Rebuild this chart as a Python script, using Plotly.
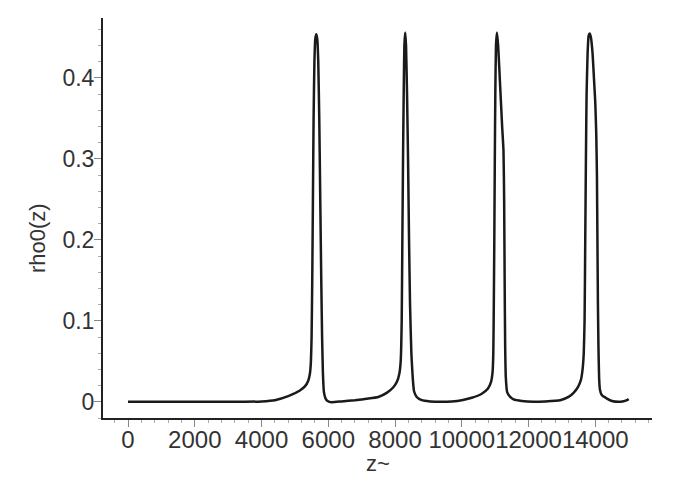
import plotly.graph_objects as go

# traced curve rho0(z)
z = [0, 1000, 2000, 3000, 3500, 4000, 4400, 4800, 5150, 5300, 5400, 5450, 5480, 5500,
     5520, 5540, 5560, 5585, 5610, 5640, 5670, 5700, 5730, 5760, 5790, 5815, 5840, 5870,
     5920, 5980, 6100, 6400, 6800, 7200, 7500, 7750, 7950, 8060, 8130, 8170, 8200, 8220,
     8240, 8260, 8280, 8305, 8330, 8360, 8390, 8420, 8450, 8490, 8530, 8570, 8650, 8800,
     9050, 9400, 9700, 10000, 10300, 10600, 10780, 10880, 10920, 10945, 10960, 10975,
     10990, 11005, 11025, 11053, 11090, 11150, 11210, 11250, 11270, 11285, 11300, 11320,
     11360, 11450, 11550, 11800, 12150, 12500, 12950, 13200, 13350, 13480, 13570, 13620,
     13655, 13680, 13700, 13720, 13740, 13770, 13800, 13832, 13870, 13920, 13960, 14000,
     14030, 14050, 14065, 14080, 14095, 14115, 14140, 14200, 14350, 14500, 14700, 14850,
     14950, 15000]
rho = [0, 0, 0, 0, 0, 0.0005, 0.002, 0.007, 0.014, 0.019, 0.026, 0.035, 0.05, 0.08,
       0.15, 0.25, 0.35, 0.42, 0.448, 0.454, 0.448, 0.42, 0.35, 0.25, 0.15, 0.08, 0.035, 0.012,
       0.004, 0.001, -0.0005, 0.0005, 0.002, 0.004, 0.006, 0.011, 0.018, 0.025, 0.035, 0.05, 0.1, 0.2,
       0.3, 0.38, 0.44, 0.456, 0.44, 0.38, 0.3, 0.2, 0.12, 0.06, 0.03, 0.013, 0.006, 0.002,
       0.0005, 0, 0.0005, 0.002, 0.005, 0.010, 0.016, 0.025, 0.035, 0.06, 0.12, 0.2,
       0.3, 0.38, 0.44, 0.456, 0.44, 0.39, 0.34, 0.31, 0.25, 0.15, 0.07, 0.03,
       0.012, 0.006, 0.003, 0.001, 0, 0.0005, 0.002, 0.006, 0.011, 0.018, 0.027, 0.04,
       0.06, 0.1, 0.2, 0.3, 0.38, 0.43, 0.452, 0.455, 0.45, 0.43, 0.40, 0.37,
       0.33, 0.28, 0.2, 0.12, 0.07, 0.03, 0.015, 0.008, 0.004, 0.001, 0, 0.0008,
       0.002, 0.0035]

x_ticks = [0, 2000, 4000, 6000, 8000, 10000, 12000, 14000]
x_ticklabels = ["0", "2000", "4000", "6000", "8000", "10000", "12000", "14000"]
y_ticks = [0, 0.1, 0.2, 0.3, 0.4]
y_ticklabels = ["0", "0.1", "0.2", "0.3", "0.4"]
x_title = "z~"
y_title = "rho0(z)"

fig = go.Figure()
fig.add_trace(go.Scatter(x=z, y=rho, mode="lines",
                         line=dict(color="#1a1a1a", width=2.5, shape="spline", smoothing=0.4),
                         showlegend=False, hoverinfo="skip"))

font_family = "Liberation Sans, Arial, Helvetica, sans-serif"
text_color = "#333333"
# the page body adds an 8px offset, so the figure is 8px smaller with margins shifted
fig.update_layout(
    width=665, height=479,
    margin=dict(l=95, r=21, t=10, b=69),
    paper_bgcolor="white", plot_bgcolor="white",
    font=dict(family=font_family, color=text_color),
    xaxis=dict(
        range=[-750, 15700], showgrid=False, zeroline=False, automargin=False,
        showline=True, linecolor="#222222", linewidth=2,
        tickmode="array", tickvals=x_ticks, ticktext=x_ticklabels, tickangle=0,
        ticks="outside", ticklen=7, tickcolor="#888888", tickwidth=1,
        tickfont=dict(size=24, color=text_color),
        ticklabelstandoff=-8,
        minor=dict(ticks="outside", ticklen=3, tickcolor="#aaaaaa", dtick=400, tick0=0),
    ),
    yaxis=dict(
        range=[-0.02, 0.474], showgrid=False, zeroline=False, automargin=False,
        showline=True, linecolor="#222222", linewidth=2,
        tickmode="array", tickvals=y_ticks, ticktext=y_ticklabels,
        ticks="outside", ticklen=7, tickcolor="#888888", tickwidth=1,
        tickfont=dict(size=23, color=text_color),
        ticklabelstandoff=-5,
        minor=dict(ticks="outside", ticklen=3, tickcolor="#aaaaaa", dtick=0.02, tick0=0),
    ),
    annotations=[
        dict(text=y_title, xref="paper", yref="paper", x=-0.12, y=0.45,
             xanchor="center", yanchor="middle", textangle=-90, showarrow=False,
             font=dict(size=22, color=text_color)),
        dict(text=x_title, xref="paper", yref="paper", x=0.5, y=-0.1125,
             xanchor="center", yanchor="middle", showarrow=False,
             font=dict(size=22, color=text_color)),
    ],
)

fig.write_html("out.html")
